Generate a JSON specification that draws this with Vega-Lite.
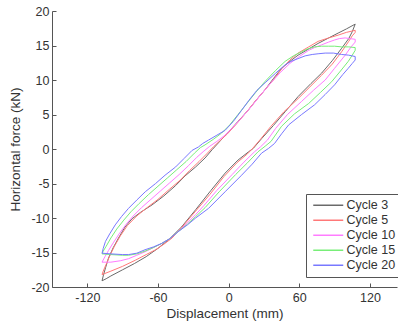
{
  "$schema": "https://vega.github.io/schema/vega-lite/v6.json",
  "width": 345,
  "height": 276,
  "autosize": {"type": "none"},
  "padding": {"left": 52, "top": 11, "right": 1, "bottom": 41},
  "background": "white",
  "config": {
    "view": {"stroke": null},
    "font": "Liberation Sans",
    "axis": {
      "domainColor": "#555555",
      "tickColor": "#555555",
      "labelColor": "#333333",
      "titleColor": "#333333",
      "labelFont": "Liberation Sans",
      "titleFont": "Liberation Sans",
      "labelFontSize": 12.5,
      "titleFontSize": 13.5,
      "titleFontWeight": "normal",
      "grid": false,
      "tickSize": -4,
      "domainWidth": 1,
      "tickWidth": 1
    }
  },
  "data": {
    "values": [
      {"c":"Cycle 3","i":0,"x":-107.5,"y":-19.1},{"c":"Cycle 3","i":1,"x":-104,"y":-18.8},{"c":"Cycle 3","i":2,"x":-100,"y":-18.4},{"c":"Cycle 3","i":3,"x":-90,"y":-17.5},{"c":"Cycle 3","i":4,"x":-80,"y":-16.6},{"c":"Cycle 3","i":5,"x":-70,"y":-15.6},{"c":"Cycle 3","i":6,"x":-60,"y":-14.4},{"c":"Cycle 3","i":7,"x":-50,"y":-13.0},{"c":"Cycle 3","i":8,"x":-40,"y":-11.3},{"c":"Cycle 3","i":9,"x":-28,"y":-8.8},{"c":"Cycle 3","i":10,"x":-15,"y":-6.0},{"c":"Cycle 3","i":11,"x":-3,"y":-3.5},{"c":"Cycle 3","i":12,"x":8,"y":-1.6},{"c":"Cycle 3","i":13,"x":17,"y":-0.4},{"c":"Cycle 3","i":14,"x":21,"y":0.1},{"c":"Cycle 3","i":15,"x":28,"y":1.5},{"c":"Cycle 3","i":16,"x":38,"y":3.4},{"c":"Cycle 3","i":17,"x":48,"y":5.4},{"c":"Cycle 3","i":18,"x":59,"y":7.6},{"c":"Cycle 3","i":19,"x":70,"y":9.5},{"c":"Cycle 3","i":20,"x":79,"y":11.0},{"c":"Cycle 3","i":21,"x":88,"y":12.8},{"c":"Cycle 3","i":22,"x":96,"y":14.6},{"c":"Cycle 3","i":23,"x":102,"y":16.0},{"c":"Cycle 3","i":24,"x":105,"y":17.0},{"c":"Cycle 3","i":25,"x":107.5,"y":18.1},{"c":"Cycle 3","i":26,"x":100,"y":17.4},{"c":"Cycle 3","i":27,"x":93,"y":16.8},{"c":"Cycle 3","i":28,"x":85,"y":16.1},{"c":"Cycle 3","i":29,"x":76,"y":15.3},{"c":"Cycle 3","i":30,"x":68,"y":14.5},{"c":"Cycle 3","i":31,"x":59,"y":13.6},{"c":"Cycle 3","i":32,"x":52,"y":12.7},{"c":"Cycle 3","i":33,"x":45,"y":11.7},{"c":"Cycle 3","i":34,"x":38,"y":10.2},{"c":"Cycle 3","i":35,"x":31,"y":8.6},{"c":"Cycle 3","i":36,"x":24,"y":7.2},{"c":"Cycle 3","i":37,"x":17,"y":5.7},{"c":"Cycle 3","i":38,"x":8,"y":4.0},{"c":"Cycle 3","i":39,"x":0,"y":2.5},{"c":"Cycle 3","i":40,"x":-7,"y":1.2},{"c":"Cycle 3","i":41,"x":-14,"y":-0.1},{"c":"Cycle 3","i":42,"x":-20,"y":-1.3},{"c":"Cycle 3","i":43,"x":-28,"y":-2.6},{"c":"Cycle 3","i":44,"x":-37,"y":-3.9},{"c":"Cycle 3","i":45,"x":-45,"y":-5.3},{"c":"Cycle 3","i":46,"x":-55,"y":-6.8},{"c":"Cycle 3","i":47,"x":-65,"y":-8.1},{"c":"Cycle 3","i":48,"x":-75,"y":-9.2},{"c":"Cycle 3","i":49,"x":-82,"y":-10.1},{"c":"Cycle 3","i":50,"x":-88,"y":-11.3},{"c":"Cycle 3","i":51,"x":-93.5,"y":-12.9},{"c":"Cycle 3","i":52,"x":-98,"y":-14.3},{"c":"Cycle 3","i":53,"x":-102,"y":-15.8},{"c":"Cycle 3","i":54,"x":-104.5,"y":-17.2},{"c":"Cycle 3","i":55,"x":-106.5,"y":-18.4},{"c":"Cycle 3","i":56,"x":-107.5,"y":-19.1},

      {"c":"Cycle 5","i":0,"x":-107.5,"y":-18.2},{"c":"Cycle 5","i":1,"x":-100,"y":-17.7},{"c":"Cycle 5","i":2,"x":-90,"y":-17.0},{"c":"Cycle 5","i":3,"x":-79,"y":-16.1},{"c":"Cycle 5","i":4,"x":-70,"y":-15.3},{"c":"Cycle 5","i":5,"x":-62,"y":-14.6},{"c":"Cycle 5","i":6,"x":-55,"y":-13.8},{"c":"Cycle 5","i":7,"x":-48,"y":-12.9},{"c":"Cycle 5","i":8,"x":-40,"y":-11.4},{"c":"Cycle 5","i":9,"x":-28,"y":-9.0},{"c":"Cycle 5","i":10,"x":-16,"y":-6.6},{"c":"Cycle 5","i":11,"x":-4,"y":-4.0},{"c":"Cycle 5","i":12,"x":7,"y":-2.0},{"c":"Cycle 5","i":13,"x":16,"y":-0.7},{"c":"Cycle 5","i":14,"x":20,"y":0},{"c":"Cycle 5","i":15,"x":27,"y":1.4},{"c":"Cycle 5","i":16,"x":36,"y":3.3},{"c":"Cycle 5","i":17,"x":47,"y":5.4},{"c":"Cycle 5","i":18,"x":59,"y":7.3},{"c":"Cycle 5","i":19,"x":69,"y":9.0},{"c":"Cycle 5","i":20,"x":79,"y":10.7},{"c":"Cycle 5","i":21,"x":88,"y":12.3},{"c":"Cycle 5","i":22,"x":96,"y":14.1},{"c":"Cycle 5","i":23,"x":102,"y":15.6},{"c":"Cycle 5","i":24,"x":105,"y":16.4},{"c":"Cycle 5","i":25,"x":107.5,"y":16.9},{"c":"Cycle 5","i":26,"x":107.5,"y":17.2},{"c":"Cycle 5","i":27,"x":100,"y":16.9},{"c":"Cycle 5","i":28,"x":93,"y":16.5},{"c":"Cycle 5","i":29,"x":85,"y":16.1},{"c":"Cycle 5","i":30,"x":76,"y":15.6},{"c":"Cycle 5","i":31,"x":68,"y":14.8},{"c":"Cycle 5","i":32,"x":59,"y":13.9},{"c":"Cycle 5","i":33,"x":52,"y":12.9},{"c":"Cycle 5","i":34,"x":45,"y":11.6},{"c":"Cycle 5","i":35,"x":38,"y":10.0},{"c":"Cycle 5","i":36,"x":30,"y":8.4},{"c":"Cycle 5","i":37,"x":22,"y":6.8},{"c":"Cycle 5","i":38,"x":14,"y":5.1},{"c":"Cycle 5","i":39,"x":6,"y":3.5},{"c":"Cycle 5","i":40,"x":-1,"y":2.2},{"c":"Cycle 5","i":41,"x":-8,"y":1.1},{"c":"Cycle 5","i":42,"x":-13,"y":0.3},{"c":"Cycle 5","i":43,"x":-18,"y":-0.6},{"c":"Cycle 5","i":44,"x":-25,"y":-1.8},{"c":"Cycle 5","i":45,"x":-33,"y":-3.1},{"c":"Cycle 5","i":46,"x":-41,"y":-4.5},{"c":"Cycle 5","i":47,"x":-50,"y":-5.8},{"c":"Cycle 5","i":48,"x":-60,"y":-7.3},{"c":"Cycle 5","i":49,"x":-70,"y":-8.6},{"c":"Cycle 5","i":50,"x":-78,"y":-9.7},{"c":"Cycle 5","i":51,"x":-86,"y":-11.1},{"c":"Cycle 5","i":52,"x":-92,"y":-12.6},{"c":"Cycle 5","i":53,"x":-97,"y":-14.1},{"c":"Cycle 5","i":54,"x":-101,"y":-15.5},{"c":"Cycle 5","i":55,"x":-104,"y":-16.7},{"c":"Cycle 5","i":56,"x":-106.5,"y":-17.7},{"c":"Cycle 5","i":57,"x":-107.5,"y":-18.2},

      {"c":"Cycle 10","i":0,"x":-107.5,"y":-16.4},{"c":"Cycle 10","i":1,"x":-100,"y":-16.4},{"c":"Cycle 10","i":2,"x":-92,"y":-16.2},{"c":"Cycle 10","i":3,"x":-85,"y":-15.9},{"c":"Cycle 10","i":4,"x":-78,"y":-15.4},{"c":"Cycle 10","i":5,"x":-71,"y":-14.9},{"c":"Cycle 10","i":6,"x":-64,"y":-14.3},{"c":"Cycle 10","i":7,"x":-57,"y":-13.7},{"c":"Cycle 10","i":8,"x":-50,"y":-13.0},{"c":"Cycle 10","i":9,"x":-43,"y":-12.0},{"c":"Cycle 10","i":10,"x":-35,"y":-10.7},{"c":"Cycle 10","i":11,"x":-28,"y":-9.5},{"c":"Cycle 10","i":12,"x":-21,"y":-8.2},{"c":"Cycle 10","i":13,"x":-10,"y":-6.0},{"c":"Cycle 10","i":14,"x":3,"y":-3.7},{"c":"Cycle 10","i":15,"x":13,"y":-1.9},{"c":"Cycle 10","i":16,"x":22,"y":-0.4},{"c":"Cycle 10","i":17,"x":27,"y":0.3},{"c":"Cycle 10","i":18,"x":33,"y":1.3},{"c":"Cycle 10","i":19,"x":40,"y":3.0},{"c":"Cycle 10","i":20,"x":50,"y":5.0},{"c":"Cycle 10","i":21,"x":62,"y":6.9},{"c":"Cycle 10","i":22,"x":72,"y":8.5},{"c":"Cycle 10","i":23,"x":82,"y":10.0},{"c":"Cycle 10","i":24,"x":90,"y":11.7},{"c":"Cycle 10","i":25,"x":99,"y":13.6},{"c":"Cycle 10","i":26,"x":104,"y":14.8},{"c":"Cycle 10","i":27,"x":107.5,"y":15.5},{"c":"Cycle 10","i":28,"x":107.5,"y":15.9},{"c":"Cycle 10","i":29,"x":103,"y":16.0},{"c":"Cycle 10","i":30,"x":99,"y":16.1},{"c":"Cycle 10","i":31,"x":94,"y":16.0},{"c":"Cycle 10","i":32,"x":90,"y":15.8},{"c":"Cycle 10","i":33,"x":85,"y":15.5},{"c":"Cycle 10","i":34,"x":79,"y":15.1},{"c":"Cycle 10","i":35,"x":73,"y":14.7},{"c":"Cycle 10","i":36,"x":68,"y":14.3},{"c":"Cycle 10","i":37,"x":60,"y":13.4},{"c":"Cycle 10","i":38,"x":52,"y":12.4},{"c":"Cycle 10","i":39,"x":44,"y":11.1},{"c":"Cycle 10","i":40,"x":36,"y":9.6},{"c":"Cycle 10","i":41,"x":28,"y":8.0},{"c":"Cycle 10","i":42,"x":20,"y":6.3},{"c":"Cycle 10","i":43,"x":12,"y":4.7},{"c":"Cycle 10","i":44,"x":4,"y":3.2},{"c":"Cycle 10","i":45,"x":-3,"y":2.0},{"c":"Cycle 10","i":46,"x":-10,"y":1.1},{"c":"Cycle 10","i":47,"x":-16,"y":0.4},{"c":"Cycle 10","i":48,"x":-21,"y":-0.3},{"c":"Cycle 10","i":49,"x":-27,"y":-1.2},{"c":"Cycle 10","i":50,"x":-34,"y":-2.4},{"c":"Cycle 10","i":51,"x":-42,"y":-3.7},{"c":"Cycle 10","i":52,"x":-50,"y":-4.9},{"c":"Cycle 10","i":53,"x":-58,"y":-6.1},{"c":"Cycle 10","i":54,"x":-66,"y":-7.3},{"c":"Cycle 10","i":55,"x":-74,"y":-8.5},{"c":"Cycle 10","i":56,"x":-81,"y":-9.7},{"c":"Cycle 10","i":57,"x":-87,"y":-10.9},{"c":"Cycle 10","i":58,"x":-93,"y":-12.3},{"c":"Cycle 10","i":59,"x":-98,"y":-13.6},{"c":"Cycle 10","i":60,"x":-102,"y":-14.7},{"c":"Cycle 10","i":61,"x":-105,"y":-15.6},{"c":"Cycle 10","i":62,"x":-107.5,"y":-16.4},

      {"c":"Cycle 15","i":0,"x":-107.5,"y":-15.2},{"c":"Cycle 15","i":1,"x":-100,"y":-15.3},{"c":"Cycle 15","i":2,"x":-90,"y":-15.4},{"c":"Cycle 15","i":3,"x":-85,"y":-15.4},{"c":"Cycle 15","i":4,"x":-78,"y":-15.2},{"c":"Cycle 15","i":5,"x":-71,"y":-14.8},{"c":"Cycle 15","i":6,"x":-64,"y":-14.3},{"c":"Cycle 15","i":7,"x":-57,"y":-13.7},{"c":"Cycle 15","i":8,"x":-50,"y":-13.0},{"c":"Cycle 15","i":9,"x":-43,"y":-12.0},{"c":"Cycle 15","i":10,"x":-35,"y":-10.9},{"c":"Cycle 15","i":11,"x":-28,"y":-9.8},{"c":"Cycle 15","i":12,"x":-20,"y":-8.5},{"c":"Cycle 15","i":13,"x":-8,"y":-6.2},{"c":"Cycle 15","i":14,"x":6,"y":-3.7},{"c":"Cycle 15","i":15,"x":16,"y":-2.0},{"c":"Cycle 15","i":16,"x":25,"y":-0.4},{"c":"Cycle 15","i":17,"x":31,"y":0.4},{"c":"Cycle 15","i":18,"x":36,"y":1.1},{"c":"Cycle 15","i":19,"x":45,"y":3.3},{"c":"Cycle 15","i":20,"x":56,"y":5.1},{"c":"Cycle 15","i":21,"x":68,"y":6.6},{"c":"Cycle 15","i":22,"x":78,"y":8.2},{"c":"Cycle 15","i":23,"x":87.5,"y":9.75},{"c":"Cycle 15","i":24,"x":95,"y":11.3},{"c":"Cycle 15","i":25,"x":101.6,"y":12.7},{"c":"Cycle 15","i":26,"x":105,"y":13.6},{"c":"Cycle 15","i":27,"x":107.5,"y":14.3},{"c":"Cycle 15","i":28,"x":107.5,"y":14.7},{"c":"Cycle 15","i":29,"x":102,"y":14.8},{"c":"Cycle 15","i":30,"x":96,"y":14.8},{"c":"Cycle 15","i":31,"x":90,"y":14.9},{"c":"Cycle 15","i":32,"x":85,"y":14.9},{"c":"Cycle 15","i":33,"x":79,"y":14.9},{"c":"Cycle 15","i":34,"x":73,"y":14.8},{"c":"Cycle 15","i":35,"x":67,"y":14.5},{"c":"Cycle 15","i":36,"x":62,"y":14.1},{"c":"Cycle 15","i":37,"x":55,"y":13.5},{"c":"Cycle 15","i":38,"x":48,"y":12.7},{"c":"Cycle 15","i":39,"x":40,"y":11.4},{"c":"Cycle 15","i":40,"x":31,"y":9.8},{"c":"Cycle 15","i":41,"x":23,"y":8.2},{"c":"Cycle 15","i":42,"x":15,"y":6.5},{"c":"Cycle 15","i":43,"x":8,"y":5.0},{"c":"Cycle 15","i":44,"x":1,"y":3.5},{"c":"Cycle 15","i":45,"x":-6,"y":2.3},{"c":"Cycle 15","i":46,"x":-13,"y":1.4},{"c":"Cycle 15","i":47,"x":-20,"y":0.6},{"c":"Cycle 15","i":48,"x":-24,"y":0.2},{"c":"Cycle 15","i":49,"x":-29,"y":-0.6},{"c":"Cycle 15","i":50,"x":-36,"y":-1.8},{"c":"Cycle 15","i":51,"x":-44,"y":-3.0},{"c":"Cycle 15","i":52,"x":-52,"y":-4.2},{"c":"Cycle 15","i":53,"x":-60,"y":-5.4},{"c":"Cycle 15","i":54,"x":-68,"y":-6.6},{"c":"Cycle 15","i":55,"x":-76,"y":-7.9},{"c":"Cycle 15","i":56,"x":-83,"y":-9.1},{"c":"Cycle 15","i":57,"x":-89,"y":-10.3},{"c":"Cycle 15","i":58,"x":-95,"y":-11.6},{"c":"Cycle 15","i":59,"x":-100,"y":-12.9},{"c":"Cycle 15","i":60,"x":-104,"y":-14.1},{"c":"Cycle 15","i":61,"x":-106.5,"y":-14.8},{"c":"Cycle 15","i":62,"x":-107.5,"y":-15.2},

      {"c":"Cycle 20","i":0,"x":-107.5,"y":-15.1},{"c":"Cycle 20","i":1,"x":-100,"y":-15.2},{"c":"Cycle 20","i":2,"x":-90,"y":-15.3},{"c":"Cycle 20","i":3,"x":-85,"y":-15.3},{"c":"Cycle 20","i":4,"x":-78,"y":-15.1},{"c":"Cycle 20","i":5,"x":-71,"y":-14.6},{"c":"Cycle 20","i":6,"x":-64,"y":-14.2},{"c":"Cycle 20","i":7,"x":-57,"y":-13.7},{"c":"Cycle 20","i":8,"x":-50,"y":-13.0},{"c":"Cycle 20","i":9,"x":-43,"y":-12.0},{"c":"Cycle 20","i":10,"x":-35,"y":-11.0},{"c":"Cycle 20","i":11,"x":-28,"y":-10.0},{"c":"Cycle 20","i":12,"x":-17,"y":-8.6},{"c":"Cycle 20","i":13,"x":-3,"y":-6.2},{"c":"Cycle 20","i":14,"x":11,"y":-3.8},{"c":"Cycle 20","i":15,"x":20,"y":-2.2},{"c":"Cycle 20","i":16,"x":28,"y":-0.6},{"c":"Cycle 20","i":17,"x":34,"y":0.1},{"c":"Cycle 20","i":18,"x":39,"y":0.8},{"c":"Cycle 20","i":19,"x":45,"y":2.2},{"c":"Cycle 20","i":20,"x":51,"y":3.5},{"c":"Cycle 20","i":21,"x":62,"y":5.0},{"c":"Cycle 20","i":22,"x":73,"y":6.4},{"c":"Cycle 20","i":23,"x":82,"y":7.9},{"c":"Cycle 20","i":24,"x":90,"y":9.3},{"c":"Cycle 20","i":25,"x":97,"y":10.8},{"c":"Cycle 20","i":26,"x":101.6,"y":11.7},{"c":"Cycle 20","i":27,"x":105,"y":12.4},{"c":"Cycle 20","i":28,"x":107.5,"y":12.9},{"c":"Cycle 20","i":29,"x":107.5,"y":13.4},{"c":"Cycle 20","i":30,"x":102,"y":13.6},{"c":"Cycle 20","i":31,"x":96,"y":13.7},{"c":"Cycle 20","i":32,"x":89,"y":13.9},{"c":"Cycle 20","i":33,"x":82,"y":13.9},{"c":"Cycle 20","i":34,"x":76,"y":13.8},{"c":"Cycle 20","i":35,"x":71,"y":13.7},{"c":"Cycle 20","i":36,"x":65,"y":13.5},{"c":"Cycle 20","i":37,"x":59,"y":13.1},{"c":"Cycle 20","i":38,"x":53,"y":12.7},{"c":"Cycle 20","i":39,"x":48,"y":12.2},{"c":"Cycle 20","i":40,"x":40,"y":11.0},{"c":"Cycle 20","i":41,"x":31,"y":9.6},{"c":"Cycle 20","i":42,"x":24,"y":8.5},{"c":"Cycle 20","i":43,"x":17,"y":7.0},{"c":"Cycle 20","i":44,"x":11,"y":5.6},{"c":"Cycle 20","i":45,"x":4,"y":4.0},{"c":"Cycle 20","i":46,"x":-3,"y":2.7},{"c":"Cycle 20","i":47,"x":-10,"y":2.0},{"c":"Cycle 20","i":48,"x":-17,"y":1.3},{"c":"Cycle 20","i":49,"x":-22,"y":0.8},{"c":"Cycle 20","i":50,"x":-25.6,"y":0.3},{"c":"Cycle 20","i":51,"x":-31,"y":-0.2},{"c":"Cycle 20","i":52,"x":-38,"y":-1.4},{"c":"Cycle 20","i":53,"x":-45,"y":-2.6},{"c":"Cycle 20","i":54,"x":-54,"y":-3.8},{"c":"Cycle 20","i":55,"x":-62,"y":-5.0},{"c":"Cycle 20","i":56,"x":-70.8,"y":-6.2},{"c":"Cycle 20","i":57,"x":-78,"y":-7.4},{"c":"Cycle 20","i":58,"x":-85,"y":-8.6},{"c":"Cycle 20","i":59,"x":-91,"y":-9.8},{"c":"Cycle 20","i":60,"x":-96.3,"y":-11.0},{"c":"Cycle 20","i":61,"x":-101,"y":-12.3},{"c":"Cycle 20","i":62,"x":-104.6,"y":-13.4},{"c":"Cycle 20","i":63,"x":-106.5,"y":-14.4},{"c":"Cycle 20","i":64,"x":-107.5,"y":-15.1}
    ]
  },
  "mark": {"type": "line", "strokeWidth": 1, "clip": true},
  "encoding": {
    "x": {
      "field": "x", "type": "quantitative",
      "scale": {"domain": [-150, 143], "nice": false, "zero": false},
      "axis": {"values": [-120, -60, 0, 60, 120], "title": "Displacement (mm)", "labelExpr": "datum.value", "labelPadding": 8, "titlePadding": 3}
    },
    "y": {
      "field": "y", "type": "quantitative",
      "scale": {"domain": [-20, 20], "nice": false},
      "axis": {"values": [-20, -15, -10, -5, 0, 5, 10, 15, 20], "title": "Horizontal force (kN)", "labelExpr": "datum.value", "labelPadding": 7, "titlePadding": 8}
    },
    "order": {"field": "i", "type": "quantitative"},
    "color": {
      "field": "c", "type": "nominal",
      "scale": {"domain": ["Cycle 3", "Cycle 5", "Cycle 10", "Cycle 15", "Cycle 20"], "range": ["#6a6a6a", "#ff7878", "#ff7cff", "#78ee78", "#7878ff"]},
      "legend": {
        "title": null, "orient": "none", "legendX": 254, "legendY": 183,
        "direction": "vertical",
        "strokeColor": "#555555", "fillColor": "white", "padding": 5,
        "symbolType": "M-3.75,0H3.75", "symbolSize": 64, "symbolStrokeWidth": 1.5, "symbolOffset": 11,
        "labelFont": "Liberation Sans", "labelFontSize": 12.5, "labelColor": "#333333", "labelOffset": 12,
        "rowPadding": 2
      }
    }
  }
}
